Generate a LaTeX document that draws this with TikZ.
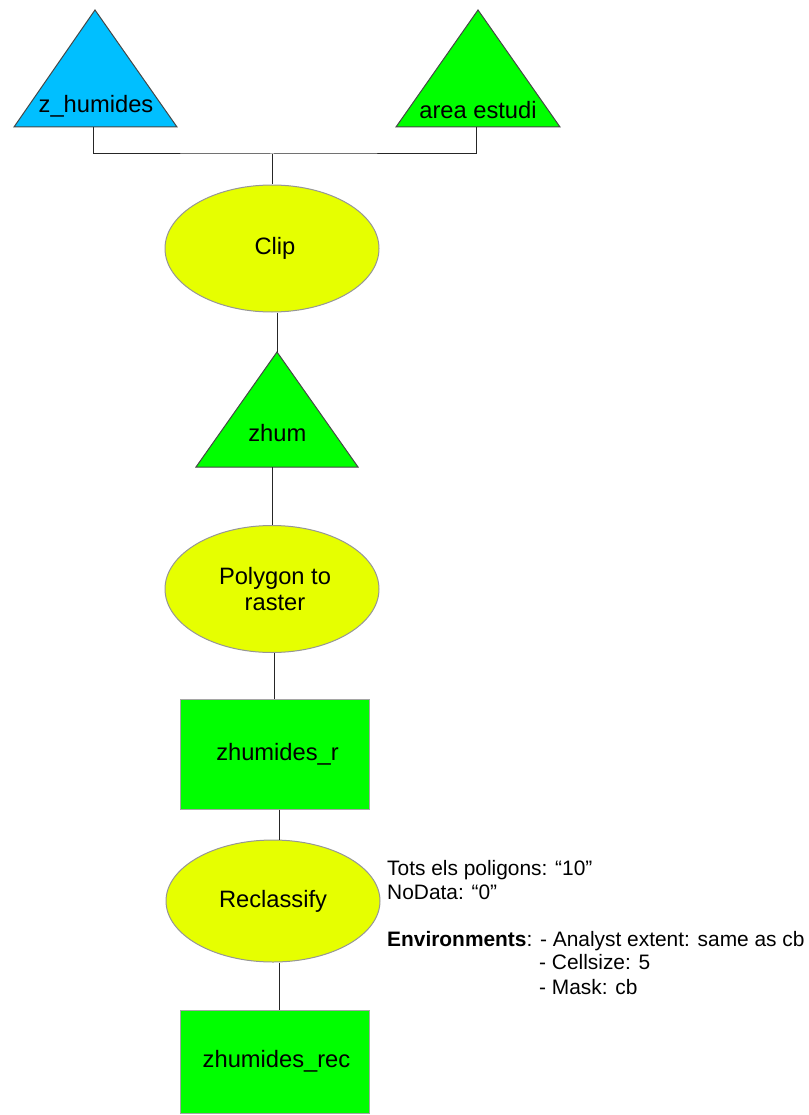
\documentclass[tikz,border=0pt]{standalone}
\usepackage{fontspec}
\setmainfont{Liberation Sans}
\usetikzlibrary{shapes.geometric,calc}
\definecolor{skyb}{RGB}{0,191,255}
\definecolor{lgreen}{RGB}{0,255,0}
\definecolor{lyellow}{RGB}{230,255,0}
\definecolor{triborder}{RGB}{70,70,70}
\definecolor{ellborder}{RGB}{150,150,150}
\definecolor{recborder}{RGB}{165,165,165}
\tikzset{
  lbl/.style={font=\fontsize{23.7}{26}\selectfont, inner sep=0pt, anchor=base},
  tri/.style={draw=triborder, line width=1pt, line join=miter},
  proc/.style={ellipse, draw=ellborder, line width=1pt, fill=lyellow, inner sep=0pt,
    minimum width=214pt, minimum height=127pt, align=center,
    font=\fontsize{23.7}{26}\selectfont},
  data/.style={rectangle, draw=recborder, line width=1pt, fill=lgreen, inner sep=0pt,
    minimum width=189pt, font=\fontsize{23.7}{26}\selectfont},
  conn/.style={draw=black!85, line width=1pt},
  note/.style={font=\fontsize{20.9}{23.6}\selectfont, inner sep=0pt, anchor=base west}
}
\begin{document}
\begin{tikzpicture}[x=1pt,y=-1pt]
\useasboundingbox (0,0) rectangle (808,1115);
% triangles
\coordinate (zhA) at (95,10);
\coordinate (zhL) at (14,127);
\coordinate (zhR) at (177,127);
\coordinate (zhB) at (93,127);
\fill[skyb] (zhA) -- (zhR) -- (zhL) -- cycle;
\draw[tri] (zhA) -- (zhR) -- (zhL) -- cycle;
\node[lbl] (zh) at (96,112.7) {z\_humides};

\coordinate (aeA) at (478,10);
\coordinate (aeL) at (396,127);
\coordinate (aeR) at (560,127);
\coordinate (aeB) at (476,127);
\fill[lgreen] (aeA) -- (aeR) -- (aeL) -- cycle;
\draw[tri] (aeA) -- (aeR) -- (aeL) -- cycle;
\node[lbl] (ae) at (478,119) {area estudi};

\coordinate (zmA) at (277,352);
\coordinate (zmL) at (196,467);
\coordinate (zmR) at (358,467);
\coordinate (zmB) at (272,467);
\fill[lgreen] (zmA) -- (zmR) -- (zmL) -- cycle;
\draw[tri] (zmA) -- (zmR) -- (zmL) -- cycle;
\node[lbl] (zm) at (277.3,441) {zhum};

% processes
\node[proc] (clip) at (272,248.5) {\hspace*{6pt}Clip};
\node[proc] (poly) at (272,589) {\hspace*{6pt}Polygon to\\\hspace*{6pt}raster};
\node[proc, minimum height=122pt] (recl) at (273,901) {Reclassify};

% data rectangles
\node[data, minimum height=110pt] (zr) at (274.5,754) {\hspace*{6pt}zhumides\_r};
\node[data, minimum height=103pt] (zrec) at (274.5,1061.5) {\hspace*{4pt}zhumides\_rec};

% connectors
\coordinate (hub) at (272,154);
\draw[conn] (zhB) |- (hub) -| (aeB);
\draw[conn] (hub) -- (clip.north);
\draw[conn] (zmA |- clip.south) -- (zmA);
\draw[conn] (zmB) -- (poly.north);
\draw[conn] (zr.north |- poly.south) -- (zr.north);
\draw[conn] ([xshift=4.5pt]zr.south) -- ([xshift=4.5pt]zr.south |- recl.north);
\draw[conn] ([xshift=4.5pt]zrec.north |- recl.south) -- ([xshift=4.5pt]zrec.north);

% annotation
\node[note] (n1) at (387,875) {Tots els poligons: “10”};
\node[note] (n2) at (387,899) {NoData: “0”};
\node[note] (n3) at (387,946) {\textbf{Environments}: - Analyst extent: same as cb};
\node[note] (n4) at (539,969.5) {- Cellsize: 5};
\node[note] (n5) at (539,994) {- Mask: cb};
\end{tikzpicture}
\end{document}
